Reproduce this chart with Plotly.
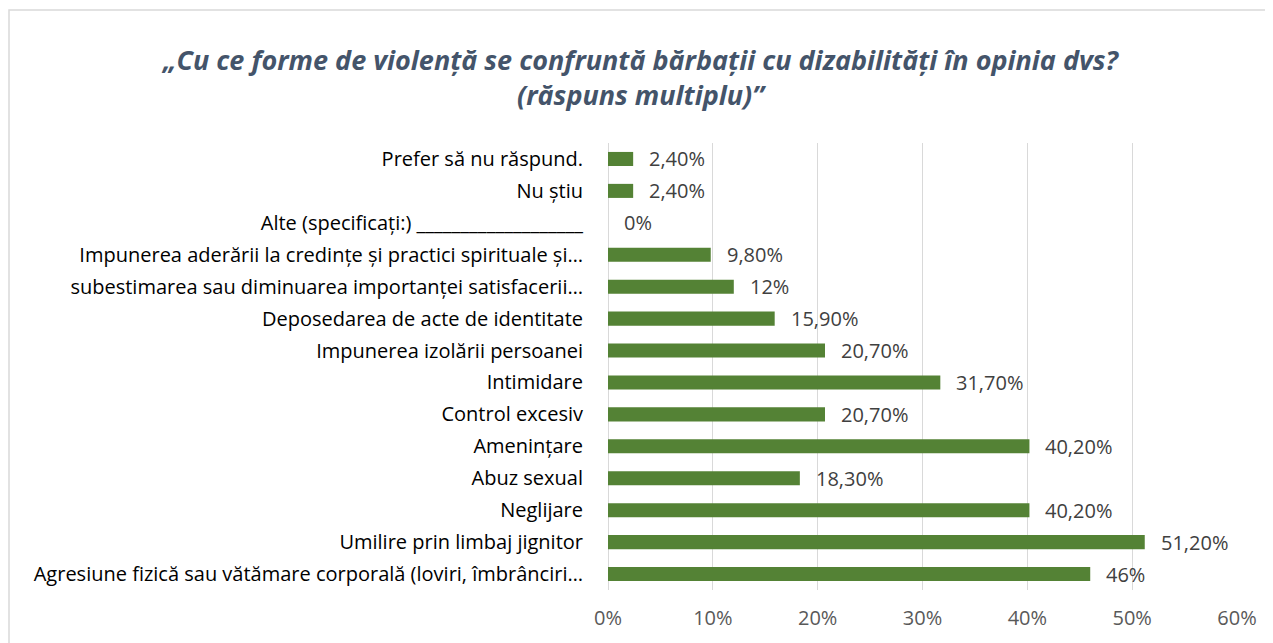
import plotly.graph_objects as go

categories = [
    "Agresiune fizică sau vătămare corporală (loviri, îmbrânciri…",
    "Umilire prin limbaj jignitor",
    "Neglijare",
    "Abuz sexual",
    "Amenințare",
    "Control excesiv",
    "Intimidare",
    "Impunerea izolării persoanei",
    "Deposedarea de acte de identitate",
    "subestimarea sau diminuarea importanței satisfacerii…",
    "Impunerea aderării la credințe și practici spirituale și…",
    "Alte (specificați:) ___________________",
    "Nu știu",
    "Prefer să nu răspund.",
]
values = [46, 51.2, 40.2, 18.3, 40.2, 20.7, 31.7, 20.7, 15.9, 12, 9.8, 0, 2.4, 2.4]
value_labels = ["46%", "51,20%", "40,20%", "18,30%", "40,20%", "20,70%", "31,70%",
                "20,70%", "15,90%", "12%", "9,80%", "0%", "2,40%", "2,40%"]
tick_vals = [0, 10, 20, 30, 40, 50, 60]
tick_text = ["0%", "10%", "20%", "30%", "40%", "50%", "60%"]
title_text = "<b><i>„Cu ce forme de violență se confruntă bărbații cu dizabilități în opinia dvs?<br>(răspuns multiplu)”</i></b>"

FONT = "'Open Sans', sans-serif"

# page body has an 8px margin: figure is drawn 8px right/down of the window origin
W, H = 1265, 635
L, T = 600, 135
PW, PH = 629, 447

fig = go.Figure(go.Bar(
    x=values, y=categories, orientation="h",
    marker=dict(color="#548235", line=dict(width=0)),
    hoverinfo="x+y",
))

annotations = [
    dict(x=v, y=c, xref="x", yref="y", text=t, showarrow=False,
         xanchor="left", yanchor="middle", xshift=14,
         font=dict(size=20, color="#404040", family=FONT))
    for v, c, t in zip(values, categories, value_labels)
]

fig.update_layout(
    width=W, height=H,
    paper_bgcolor="white", plot_bgcolor="white",
    margin=dict(l=L, r=W - L - PW, t=T, b=H - T - PH, autoexpand=False),
    bargap=0.56,
    showlegend=False,
    font=dict(family=FONT, size=20, color="#000000"),
    title=dict(text=title_text, x=0.5, xref="container", xanchor="center",
               y=1 - 62 / H, yanchor="middle",
               font=dict(size=27, color="#44546A", family=FONT)),
    xaxis=dict(range=[0, 60], tickvals=tick_vals, ticktext=tick_text,
               showgrid=True, gridcolor="#D9D9D9", gridwidth=1,
               zeroline=True, zerolinecolor="#D9D9D9", zerolinewidth=1,
               showline=False, ticks="outside", ticklen=10,
               tickcolor="rgba(0,0,0,0)", automargin=False,
               tickfont=dict(size=20, color="#595959", family=FONT)),
    yaxis=dict(categoryorder="array", categoryarray=categories,
               showgrid=False, showline=False, ticks="outside", ticklen=20,
               tickcolor="rgba(0,0,0,0)", automargin=False,
               tickfont=dict(size=20, color="#000000", family=FONT)),
    annotations=annotations,
    shapes=[dict(type="rect", xref="paper", yref="paper",
                 x0=(1 - L) / PW, x1=(W + 20 - L) / PW,
                 y0=(T + PH - H - 20) / PH, y1=(T + PH - 2) / PH,
                 line=dict(color="#D9D9D9", width=1.5), layer="below")],
)

fig.write_html("out.html")
